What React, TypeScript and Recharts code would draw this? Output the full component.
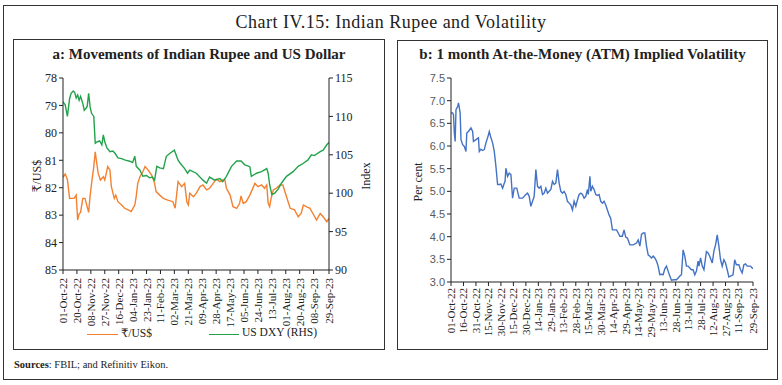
import { Line, LineChart, XAxis, YAxis } from "recharts";

// a: rupee (inverted left axis) and dollar index, day offsets from 01-Oct-22
const inrDays = [0, 3, 6, 9, 12, 15, 18, 20, 22, 24, 27, 30, 33, 35, 37, 39, 42, 44, 46, 48, 51, 55, 57, 61, 64, 66, 70, 72, 75, 80, 84, 89, 93, 98, 100, 102, 105, 109, 112, 116, 121, 125, 127, 132, 137, 143, 150, 153, 155, 157, 162, 166, 169, 171, 173, 178, 182, 187, 191, 196, 200, 205, 209, 214, 218, 221, 223, 228, 232, 237, 241, 243, 246, 250, 255, 260, 262, 266, 271, 275, 278, 280, 282, 284, 287, 291, 296, 300, 305, 310, 316, 321, 325, 328, 332, 337, 341, 346, 351, 355, 360, 363];
const inrUsd = [81.62, 81.5, 81.7, 82.39, 82.39, 82.39, 82.27, 83.18, 82.95, 82.9, 82.39, 82.39, 82.7, 82.9, 82.3, 81.84, 81.23, 80.69, 81.1, 81.47, 81.72, 81.6, 81.72, 81.23, 81.35, 81.96, 82.39, 82.27, 82.51, 82.63, 82.75, 82.81, 82.87, 82.63, 82.3, 81.84, 81.6, 81.42, 81.23, 81.35, 81.54, 81.84, 82.14, 82.27, 82.39, 82.45, 82.51, 82.75, 82.27, 81.78, 81.96, 81.84, 82.51, 82.63, 82.2, 82.33, 82.2, 81.96, 81.9, 82.08, 82.02, 81.84, 81.69, 81.78, 81.72, 81.72, 82.02, 82.27, 82.69, 82.75, 82.57, 82.3, 82.57, 82.51, 82.27, 81.96, 81.84, 81.96, 81.9, 82.02, 81.9, 82.57, 82.69, 82.39, 82.08, 82.02, 81.9, 81.9, 82.33, 82.75, 82.81, 83.06, 82.94, 82.63, 82.69, 82.75, 82.94, 83.18, 82.94, 83.06, 83.24, 83.12];

const dxyDays = [0, 3, 6, 9, 11, 14, 16, 18, 20, 22, 24, 27, 29, 31, 33, 35, 37, 39, 42, 44, 47, 50, 53, 55, 57, 60, 64, 68, 71, 75, 80, 85, 90, 95, 98, 100, 105, 109, 114, 118, 122, 125, 128, 132, 137, 141, 146, 152, 157, 160, 166, 170, 173, 182, 191, 196, 200, 207, 214, 218, 223, 230, 237, 243, 248, 255, 257, 264, 271, 278, 280, 282, 285, 289, 294, 298, 305, 314, 321, 328, 334, 339, 343, 351, 355, 360, 363];
const usDxy = [111.9, 111.5, 110.0, 112.3, 113.0, 113.3, 113.1, 112.4, 112.8, 112.1, 112.6, 111.7, 110.8, 111.0, 111.3, 113.0, 111.2, 110.4, 110.0, 106.5, 106.7, 106.8, 106.3, 107.6, 106.7, 105.9, 105.4, 105.5, 105.2, 104.6, 104.5, 104.3, 104.2, 104.0, 104.8, 103.5, 103.0, 102.2, 102.3, 102.0, 102.1, 101.7, 103.5, 103.3, 103.2, 104.8, 105.2, 105.6, 104.3, 103.9, 103.2, 102.6, 103.0, 102.6, 101.7, 101.3, 102.1, 101.7, 101.9, 101.5, 102.2, 103.5, 104.2, 104.2, 103.7, 103.45, 102.2, 102.6, 102.8, 103.2, 102.6, 101.1, 99.8, 100.0, 100.6, 101.3, 102.2, 102.8, 103.5, 103.9, 104.3, 105.0, 104.9, 105.4, 105.6, 106.3, 106.6];

// b: 1-month ATM implied volatility, per cent
const volDays = [0, 2, 3, 4, 5, 6, 8, 9, 11, 12, 14, 16, 18, 19, 21, 24, 26, 27, 30, 33, 34, 36, 38, 40, 42, 44, 46, 48, 50, 52, 54, 56, 58, 60, 62, 64, 65, 66, 68, 70, 72, 74, 76, 79, 82, 86, 90, 92, 94, 96, 98, 100, 102, 104, 106, 108, 110, 112, 114, 116, 118, 120, 122, 124, 126, 128, 130, 132, 134, 136, 138, 140, 142, 144, 146, 148, 150, 152, 154, 156, 158, 160, 162, 164, 165, 167, 168, 170, 172, 174, 176, 178, 180, 182, 184, 186, 188, 190, 192, 194, 199, 201, 203, 206, 208, 210, 212, 215, 219, 223, 225, 227, 229, 231, 233, 235, 237, 239, 241, 243, 245, 247, 249, 251, 253, 255, 257, 259, 261, 263, 265, 268, 271, 273, 275, 277, 279, 281, 283, 285, 287, 289, 291, 293, 295, 297, 298, 300, 302, 304, 307, 309, 311, 314, 316, 318, 320, 322, 324, 326, 328, 330, 332, 334, 336, 339, 341, 343, 346, 348, 350, 352, 354, 356, 358, 360, 362, 363];
const atmVol = [6.73, 6.73, 6.69, 6.29, 6.1, 6.8, 6.87, 6.95, 6.73, 6.14, 6.03, 5.99, 5.88, 6.29, 6.32, 6.4, 6.32, 6.1, 6.14, 6.18, 5.88, 5.93, 5.9, 5.92, 6.07, 6.18, 6.32, 6.18, 6.07, 5.88, 5.55, 5.15, 5.15, 5.16, 5.07, 5.18, 5.22, 5.51, 5.33, 5.4, 5.37, 4.85, 5.07, 5.07, 4.85, 4.85, 4.93, 4.96, 4.89, 4.67, 4.78, 4.89, 5.48, 5.11, 5.07, 5.11, 4.93, 4.96, 5.07, 4.96, 5.0, 5.04, 5.22, 5.15, 5.18, 5.48, 5.18, 5.0, 4.96, 5.0, 4.93, 4.78, 4.74, 4.7, 4.59, 4.78, 4.67, 4.81, 4.93, 4.96, 4.93, 4.85, 4.89, 5.04, 4.93, 5.33, 5.0, 5.11, 5.04, 4.93, 4.91, 4.93, 4.78, 4.74, 4.78, 4.7, 4.59, 4.48, 4.4, 4.15, 4.15, 4.08, 4.01, 4.01, 4.15, 3.99, 3.97, 3.82, 3.82, 3.86, 3.93, 3.79, 4.05, 4.08, 4.08, 3.79, 3.6, 3.57, 3.53, 3.57, 3.53, 3.46, 3.35, 3.16, 3.17, 3.16, 3.29, 3.35, 3.24, 3.13, 3.04, 3.05, 3.05, 3.09, 3.13, 3.16, 3.71, 3.57, 3.35, 3.35, 3.31, 3.27, 3.27, 3.16, 3.24, 3.46, 3.35, 3.53, 3.35, 3.27, 3.67, 3.64, 3.57, 3.42, 3.68, 3.82, 4.04, 3.79, 3.49, 3.35, 3.49, 3.42, 3.27, 3.11, 3.13, 3.16, 3.49, 3.38, 3.38, 3.27, 3.2, 3.38, 3.4, 3.35, 3.35, 3.35, 3.31, 3.29];

const fxTickLabels = ["01-Oct-22", "20-Oct-22", "08-Nov-22", "27-Nov-22", "16-Dec-22", "04-Jan-23", "23-Jan-23", "11-Feb-23", "02-Mar-23", "21-Mar-23", "09-Apr-23", "28-Apr-23", "17-May-23", "05-Jun-23", "24-Jun-23", "13-Jul-23", "01-Aug-23", "20-Aug-23", "08-Sep-23", "29-Sep-23"];
const volTickLabels = ["01-Oct-22", "16-Oct-22", "31-Oct-22", "15-Nov-22", "30-Nov-22", "15-Dec-22", "30-Dec-22", "14-Jan-23", "29-Jan-23", "13-Feb-23", "28-Feb-23", "15-Mar-23", "30-Mar-23", "14-Apr-23", "29-Apr-23", "14-May-23", "29-May-23", "13-Jun-23", "28-Jun-23", "13-Jul-23", "28-Jul-23", "12-Aug-23", "27-Aug-23", "11-Sep-23", "29-Sep-23"];
const inrTicks = [78, 79, 80, 81, 82, 83, 84, 85];
const dxyTicks = [90, 95, 100, 105, 110, 115];
const volTicks = [3.0, 3.5, 4.0, 4.5, 5.0, 5.5, 6.0, 6.5, 7.0, 7.5];

const MONTHS: Record<string, number> = { Jan: 0, Feb: 1, Mar: 2, Apr: 3, May: 4, Jun: 5, Jul: 6, Aug: 7, Sep: 8, Oct: 9, Nov: 10, Dec: 11 };
const BASE = Date.UTC(2022, 9, 1);
const toDay = (s: string) => {
  const [d, m, y] = s.split("-");
  return Math.round((Date.UTC(2000 + Number(y), MONTHS[m], Number(d)) - BASE) / 86400000);
};

const fxTicks = fxTickLabels.map(toDay);
const volTickDays = volTickLabels.map(toDay);
const lastDay = toDay("29-Sep-23");

const inrData = inrDays.map((day, i) => ({ day, value: inrUsd[i] }));
const dxyData = dxyDays.map((day, i) => ({ day, value: usDxy[i] }));
const volData = volDays.map((day, i) => ({ day, value: atmVol[i] }));

const SERIF = "'Liberation Serif', 'DejaVu Serif', serif";
const SANS = "'Liberation Sans', Arial, sans-serif";

function DateTick(props: any) {
  const { x, y, payload, labels, days } = props;
  const label = labels[days.indexOf(payload.value)] ?? "";
  return (
    <text x={x} y={y} transform={`rotate(-90 ${x} ${y})`} textAnchor="end" dominantBaseline="central"
      fontFamily={SERIF} fontSize={11} fill="#222">
      {label}
    </text>
  );
}

const box = (left: number, top: number, width: number, height: number) => ({
  position: "absolute" as const, left, top, width, height, border: "1.5px solid #333", boxSizing: "border-box" as const,
});

const vText = (left: number, top: number, text: string) => (
  <div style={{ position: "absolute", left, top, transform: "translate(-50%, -50%) rotate(-90deg)", fontFamily: SERIF, fontSize: 12, color: "#222", whiteSpace: "nowrap" }}>
    {text}
  </div>
);

export default function App() {
  return (
    <div style={{ position: "absolute", left: 0, top: 0, width: 782, height: 385, background: "#fff", fontFamily: SERIF, overflow: "hidden" }}>
      <div style={box(3, 5, 775, 375)} />
      <div style={{ position: "absolute", top: 12, left: 0, width: 782, textAlign: "center", fontSize: 18, letterSpacing: 0.5, color: "#222" }}>
        Chart IV.15: Indian Rupee and Volatility
      </div>

      {/* panel a */}
      <div style={box(13, 39, 372, 311)} />
      <div style={{ position: "absolute", top: 46, left: 13, width: 372, textAlign: "center", fontSize: 15, fontWeight: "bold", color: "#222" }}>
        a: Movements of Indian Rupee and US Dollar
      </div>
      <div style={{ position: "absolute", left: 13, top: 39 }}>
        <LineChart width={371} height={310} margin={{ top: 39, right: 15, bottom: 29, left: 10 }}>
          <XAxis dataKey="day" type="number" domain={[0, lastDay]} ticks={fxTicks} interval={0} allowDataOverflow
            height={50} stroke="#222" tickSize={4} tickMargin={4}
            tick={(p: any) => <DateTick {...p} labels={fxTickLabels} days={fxTicks} />} />
          <YAxis yAxisId="inr" reversed domain={[78, 85]} ticks={inrTicks} interval={0} width={40} stroke="#222"
            tickSize={4} tick={{ fontFamily: SERIF, fontSize: 12, fill: "#222" }} />
          <YAxis yAxisId="dxy" orientation="right" domain={[90, 115]} ticks={dxyTicks} interval={0} width={40} stroke="#222"
            tickSize={4} tick={{ fontFamily: SERIF, fontSize: 12, fill: "#222" }} />
          <Line yAxisId="inr" data={inrData} dataKey="value" name="₹/US$" stroke="#F4812F" strokeWidth={1.4} dot={false} isAnimationActive={false} />
          <Line yAxisId="dxy" data={dxyData} dataKey="value" name="US DXY (RHS)" stroke="#22A34B" strokeWidth={1.4} dot={false} isAnimationActive={false} />
        </LineChart>
      </div>
      {vText(37, 176, "₹/US$")}
      {vText(366, 176, "Index")}
      <div style={{ position: "absolute", left: 87, top: 334, width: 31, borderTop: "1.5px solid #F4812F" }} />
      <div style={{ position: "absolute", left: 121, top: 326, fontSize: 11.5, color: "#222" }}>₹/US$</div>
      <div style={{ position: "absolute", left: 209, top: 334, width: 30, borderTop: "1.5px solid #22A34B" }} />
      <div style={{ position: "absolute", left: 242, top: 326, fontSize: 11.5, color: "#222" }}>US DXY (RHS)</div>

      {/* panel b */}
      <div style={box(397, 40, 371, 310)} />
      <div style={{ position: "absolute", top: 46, left: 397, width: 371, textAlign: "center", fontSize: 15, fontWeight: "bold", color: "#222" }}>
        b: 1 month At-the-Money (ATM) Implied Volatility
      </div>
      <div style={{ position: "absolute", left: 397, top: 40 }}>
        <LineChart width={371} height={309} margin={{ top: 38, right: 15, bottom: 17, left: 14 }}>
          <XAxis dataKey="day" type="number" domain={[0, lastDay]} ticks={volTickDays} interval={0} allowDataOverflow
            height={50} stroke="#222" tickSize={4} tickMargin={2}
            tick={(p: any) => <DateTick {...p} labels={volTickLabels} days={volTickDays} />} />
          <YAxis domain={[3, 7.5]} ticks={volTicks} interval={0} width={40} stroke="#222" tickSize={4}
            tickFormatter={(v: number) => v.toFixed(1)} tick={{ fontFamily: SANS, fontSize: 11, fill: "#595959" }} />
          <Line data={volData} dataKey="value" name="ATM implied volatility" stroke="#4472C4" strokeWidth={1.4} dot={false} isAnimationActive={false} />
        </LineChart>
      </div>
      {vText(418, 182, "Per cent")}

      <div style={{ position: "absolute", left: 14, top: 359, fontSize: 10.5, color: "#222" }}>
        <b>Sources</b>: FBIL; and Refinitiv Eikon.
      </div>
    </div>
  );
}
